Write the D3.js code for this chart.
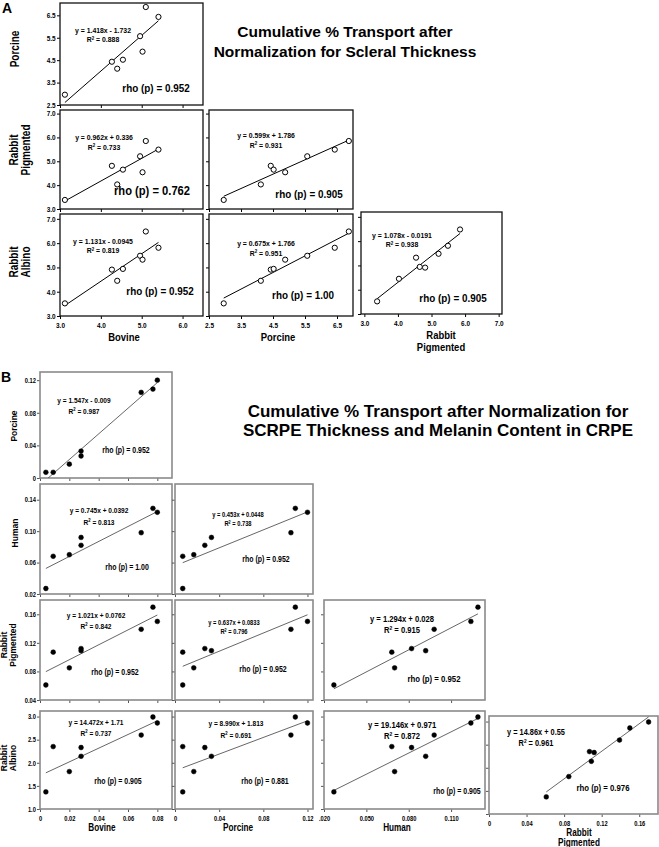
<!DOCTYPE html>
<html>
<head>
<meta charset="utf-8">
<script src="https://cdnjs.cloudflare.com/ajax/libs/d3/7.8.5/d3.min.js"></script>
<style>
  body { margin: 0; background: #fff; }
  svg text { font-family: "Liberation Sans", Arial, Helvetica, sans-serif; font-weight: bold; fill: #000; }
</style>
</head>
<body>
<svg id="chart" width="659" height="847"></svg>
<script>
// ---- A: cumulative % transport after normalization for scleral thickness (8 samples)
var bovineA  = [3.12, 4.27, 4.40, 4.54, 4.96, 5.02, 5.10, 5.41];
var porcineA = [2.96, 4.43, 4.12, 4.52, 5.57, 4.88, 6.87, 6.43];
var rabPigA  = [3.38, 4.81, 4.03, 4.65, 5.21, 4.54, 5.85, 5.49];
var rabAlbA  = [3.52, 4.91, 4.45, 4.94, 5.48, 5.32, 6.48, 5.81];

// panel order: Por~Bov, RP~Bov, RP~Por, RA~Bov, RA~Por, RA~RP
var eqA  = ["y = 1.418x - 1.732", "y = 0.962x + 0.336", "y = 0.599x + 1.786",
            "y = 1.131x - 0.0945", "y = 0.675x + 1.766", "y = 1.078x - 0.0191"];
var r2A  = ["0.888", "0.733", "0.931", "0.819", "0.951", "0.938"];
var rhoA = ["0.952", "0.762", "0.905", "0.952", "1.00", "0.905"];

var bovineTicksA   = [3, 4, 5, 6];
var porcineTicksXA = [2.5, 3.5, 4.5, 5.5, 6.5];
var rabPigTicksXA  = [3, 4, 5, 6, 7];
var porcineTicksYA = [2.5, 3.5, 4.5, 5.5, 6.5];
var rabPigTicksYA  = [3, 4, 5, 6, 7];
var rabAlbTicksYA  = [3, 4, 5, 6, 7];

// ---- B: normalization for SCRPE thickness and melanin content in CRPE
var bovineB  = [0.004, 0.009, 0.020, 0.028, 0.028, 0.069, 0.077, 0.080];
var porcineB = [0.007, 0.007, 0.017, 0.033, 0.027, 0.105, 0.109, 0.120];
var humanB   = [0.027, 0.068, 0.070, 0.092, 0.082, 0.098, 0.129, 0.124];
var rabPigB  = [0.061, 0.107, 0.085, 0.109, 0.112, 0.139, 0.170, 0.150];
var rabAlbB  = [1.37, 2.35, 1.81, 2.14, 2.33, 2.60, 2.99, 2.86];

// panel order: Por~Bov, Hum~Bov, Hum~Por, RP~Bov, RP~Por, RP~Hum, RA~Bov, RA~Por, RA~Hum, RA~RP
var eqB  = ["y = 1.547x - 0.009", "y = 0.745x + 0.0392", "y = 0.453x + 0.0448",
            "y = 1.021x + 0.0762", "y = 0.637x + 0.0833", "y = 1.294x + 0.028",
            "y = 14.472x + 1.71", "y = 8.990x + 1.813", "y = 19.146x + 0.971", "y = 14.86x + 0.55"];
var r2B  = ["0.987", "0.813", "0.738", "0.842", "0.796", "0.915", "0.737", "0.691", "0.872", "0.961"];
var rhoB = ["0.952", "1.00", "0.952", "0.952", "0.952", "0.952", "0.905", "0.881", "0.905", "0.976"];

var bovineTicksB   = [0, 0.02, 0.04, 0.06, 0.08];
var porcineTicksXB = [0, 0.04, 0.08, 0.12];
var humanTicksXB   = [0.02, 0.05, 0.08, 0.11];
var rabPigTicksXB  = [0, 0.04, 0.08, 0.12, 0.16];
var porcineTicksYB = [0, 0.04, 0.08, 0.12];
var humanTicksYB   = [0.02, 0.06, 0.10, 0.14];
var rabPigTicksYB  = [0.04, 0.08, 0.12, 0.16];
var rabAlbTicksYB  = [1.0, 1.5, 2.0, 2.5, 3.0];

var svg = d3.select("#chart");

var f1 = d3.format(".1f");
var f2 = function (d) { return d === 0 ? "0" : d3.format(".2f")(d); };
var f3 = function (d) { return d3.format(".3f")(d).replace(/^0\.020$/, ".020"); };

// layout of the two matrices
var setA = {
  id: "a", k: 0.86, tickLen: 3, tickPad: 2, tickFont: 7.5, tickColor: "#000",
  box: "#111", boxW: 1.3, lineColor: "#000", lineW: 1, open: true, r: 2.6,
  eqSize: 8, rhoSize: 11.5, titleSize: 11, titleGap: 21, titleLead: 12,
  labelSize: 12.5, labelK: 0.8,
  cols: [
    { x0: 60, x1: 203, dom: [3.0, 6.5], ticks: bovineTicksA, fmt: f1, title: ["Bovine"], tx: 124 },
    { x0: 209, x1: 353, dom: [2.5, 7.0], ticks: porcineTicksXA, fmt: f1, title: ["Porcine"], tx: 278 },
    { x0: 361, x1: 502, dom: [2.9, 7.1], ticks: rabPigTicksXA, fmt: f1, title: ["Rabbit", "Pigmented"], tx: 441 }
  ],
  rows: [
    { y0: 3, y1: 105, dom: [2.5, 7.05], ticks: porcineTicksYA, fmt: f1, title: ["Porcine"], lx: [15], ly: 49 },
    { y0: 110, y1: 209, dom: [3.0, 7.15], ticks: rabPigTicksYA, fmt: f1, title: ["Rabbit", "Pigmented"], lx: [14, 26], ly: 150 },
    { y0: 214, y1: 316, dom: [3.0, 7.2], ticks: rabAlbTicksYA, fmt: f1, title: ["Rabbit", "Albino"], lx: [14, 26], ly: 262 }
  ],
  eq: eqA, r2: r2A, rho: rhoA,
  panels: [
    { r: 0, c: 0, x: bovineA, y: porcineA, note: [43, 27, 36.5, 96, 85] },
    { r: 1, c: 0, x: bovineA, y: rabPigA, note: [44, 27.5, 37, 92, 80], rhoSize: 13 },
    { r: 1, c: 1, x: porcineA, y: rabPigA, note: [57, 25.5, 35, 100, 84] },
    { r: 2, c: 0, x: bovineA, y: rabAlbA, note: [43, 27, 36.5, 100, 77] },
    { r: 2, c: 1, x: porcineA, y: rabAlbA, note: [57, 29.5, 39, 94, 81] },
    { r: 2, c: 2, x: rabPigA, y: rabAlbA, note: [41, 23, 32.5, 92, 86], shift: -2 }
  ]
};

var setB = {
  id: "b", k: 0.82, tickLen: 3, tickPad: 2, tickFont: 7, tickColor: "#555",
  box: "#8a8a8a", boxW: 1.6, lineColor: "#555", lineW: 0.9, open: false, r: 2.4,
  eqSize: 8, rhoSize: 8.5, titleSize: 10, titleGap: 18, titleLead: 10.5,
  labelSize: 8.5, labelK: 1,
  cols: [
    { x0: 40, x1: 172, dom: [0, 0.09], ticks: bovineTicksB, fmt: f2, title: ["Bovine"], tx: 102 },
    { x0: 175, x1: 313, dom: [0, 0.125], ticks: porcineTicksXB, fmt: f2, title: ["Porcine"], tx: 238 },
    { x0: 324, x1: 485, dom: [0.02, 0.134], ticks: humanTicksXB, fmt: f3, title: ["Human"], tx: 397 },
    { x0: 489, x1: 658, dom: [0, 0.18], ticks: rabPigTicksXB, fmt: f2, title: ["Rabbit", "Pigmented"], tx: 579 }
  ],
  rows: [
    { y0: 372, y1: 478, dom: [0, 0.13], ticks: porcineTicksYB, fmt: f2, title: ["Porcine"], lx: [14], ly: 426 },
    { y0: 484, y1: 594, dom: [0.02, 0.16], ticks: humanTicksYB, fmt: f2, title: ["Human"], lx: [15], ly: 533 },
    { y0: 600, y1: 700, dom: [0.04, 0.18], ticks: rabPigTicksYB, fmt: f2, title: ["Rabbit", "Pigmented"], lx: [4, 13], ly: 645 },
    { y0: 711, y1: 809, dom: [1.0, 3.12], ticks: rabAlbTicksYB, fmt: f1, title: ["Rabbit", "Albino"], lx: [4, 13], ly: 758 }
  ],
  eq: eqB, r2: r2B, rho: rhoB,
  panels: [
    { r: 0, c: 0, x: bovineB, y: porcineB, note: [44, 28, 39, 86, 78] },
    { r: 1, c: 0, x: bovineB, y: humanB, note: [59, 26, 38, 87, 83] },
    { r: 1, c: 1, x: porcineB, y: humanB, note: [63, 31, 39.5, 91, 75], eqSize: 7 },
    { r: 2, c: 0, x: bovineB, y: rabPigB, note: [56, 15, 26, 75, 72] },
    { r: 2, c: 1, x: porcineB, y: rabPigB, note: [59, 23, 32, 88, 69], eqSize: 7 },
    { r: 2, c: 2, x: humanB, y: rabPigB, note: [78, 19, 30, 110, 79], eqSize: 9.3, rhoSize: 9.5 },
    { r: 3, c: 0, x: bovineB, y: rabAlbB, note: [56, 11, 22, 78, 70] },
    { r: 3, c: 1, x: porcineB, y: rabAlbB, note: [61, 12, 24, 90, 70] },
    { r: 3, c: 2, x: humanB, y: rabAlbB, note: [78, 14, 25, 133, 80], eqSize: 9.3 },
    { r: 3, c: 3, x: rabPigB, y: rabAlbB, note: [47, 16, 26.5, 114, 72], eqSize: 9, rhoSize: 9.5, shift: 5 }
  ]
};

// least squares line through the plotted points
function fitLine(xs, ys) {
  var mx = d3.mean(xs), my = d3.mean(ys);
  var sxy = d3.sum(xs, function (v, i) { return (v - mx) * (ys[i] - my); });
  var sxx = d3.sum(xs, function (v) { return (v - mx) * (v - mx); });
  var b = sxy / sxx;
  return function (v) { return my + b * (v - mx); };
}

function squishText(g, x, y, size, k, anchor) {
  return g.append("text")
    .attr("transform", "translate(" + x + "," + y + ") scale(" + k + ",1)")
    .attr("text-anchor", anchor || "middle")
    .attr("dy", "0.35em")
    .style("font-size", size + "px");
}

function styleAxis(sel, set) {
  sel.attr("font-size", null).attr("font-family", null);
  sel.select(".domain").remove();
  sel.selectAll(".tick line").attr("stroke", set.tickColor);
  sel.selectAll(".tick text")
    .attr("fill", "#000")
    .style("font-size", set.tickFont + "px")
    .attr("transform", "scale(" + set.k + ",1)");
}

function drawSet(set) {
  var lastRow = set.rows.length - 1;

  set.panels.forEach(function (p, i) {
    var col = set.cols[p.c], row = set.rows[p.r];
    var shift = p.shift || 0;
    var y0 = row.y0 + shift, y1 = row.y1 + shift;
    var x = d3.scaleLinear().domain(col.dom).range([col.x0, col.x1]);
    var y = d3.scaleLinear().domain(row.dom).range([y1, y0]);
    var g = svg.append("g");

    var xAxis = d3.axisBottom(x).tickValues(col.ticks)
      .tickSize(set.tickLen).tickSizeOuter(0).tickPadding(set.tickPad + 2)
      .tickFormat(p.r === lastRow ? col.fmt : function () { return ""; });
    g.append("g").attr("transform", "translate(0," + y1 + ")").call(xAxis)
      .call(styleAxis, set);

    var yAxis = d3.axisLeft(y).tickValues(row.ticks)
      .tickSize(set.tickLen).tickSizeOuter(0).tickPadding(set.tickPad)
      .tickFormat(p.c === 0 ? row.fmt : function () { return ""; });
    g.append("g").attr("transform", "translate(" + col.x0 + ",0)").call(yAxis)
      .call(styleAxis, set);

    // frame
    g.append("rect")
      .attr("x", col.x0).attr("y", y0)
      .attr("width", col.x1 - col.x0).attr("height", y1 - y0)
      .attr("fill", "none")
      .attr("stroke", set.box)
      .attr("stroke-width", set.boxW);

    var clipId = "clip-" + set.id + i;
    svg.append("clipPath").attr("id", clipId)
      .append("rect")
      .attr("x", col.x0).attr("y", y0)
      .attr("width", col.x1 - col.x0).attr("height", y1 - y0);

    // regression line over the range of x
    var f = fitLine(p.x, p.y);
    var ext = d3.extent(p.x);
    g.append("line")
      .attr("clip-path", "url(#" + clipId + ")")
      .attr("x1", x(ext[0])).attr("y1", y(f(ext[0])))
      .attr("x2", x(ext[1])).attr("y2", y(f(ext[1])))
      .attr("stroke", set.lineColor)
      .attr("stroke-width", set.lineW);

    var pts = p.x.map(function (v, k) { return { x: v, y: p.y[k] }; });
    g.selectAll("circle.pt").data(pts).join("circle")
      .attr("class", "pt")
      .attr("cx", function (d) { return x(d.x); })
      .attr("cy", function (d) { return y(d.y); })
      .attr("r", set.r)
      .attr("fill", set.open ? "#fff" : "#000")
      .attr("stroke", "#000")
      .attr("stroke-width", set.open ? 1 : 0.5);

    // equation, R squared and rho
    var n = p.note, eqSize = p.eqSize || set.eqSize, rhoSize = p.rhoSize || set.rhoSize;
    squishText(g, col.x0 + n[0], y0 + n[1], eqSize, set.k).text(set.eq[i]);
    var r2 = squishText(g, col.x0 + n[0], y0 + n[2], eqSize, set.k);
    r2.append("tspan").text("R");
    r2.append("tspan").attr("dy", -eqSize * 0.35).style("font-size", (eqSize * 0.65) + "px").text("2");
    r2.append("tspan").attr("dy", eqSize * 0.35).text(" = " + set.r2[i]);
    squishText(g, col.x0 + n[3], y0 + n[4], rhoSize, set.k).text("rho (p) = " + set.rho[i]);

    // axis title under the bottom row
    if (p.r === lastRow) {
      col.title.forEach(function (t, j) {
        squishText(svg, col.tx, y1 + set.titleGap + j * set.titleLead, set.titleSize, set.k).text(t);
      });
    }
  });

  // row labels
  set.rows.forEach(function (row) {
    row.title.forEach(function (t, j) {
      svg.append("text")
        .attr("transform", "translate(" + row.lx[j] + "," + row.ly + ") rotate(-90) scale(" + set.labelK + ",1)")
        .attr("text-anchor", "middle")
        .attr("dy", "0.35em")
        .style("font-size", set.labelSize + "px")
        .text(t);
    });
  });
}

drawSet(setA);
drawSet(setB);

// panel letters and headings
svg.append("text").attr("x", 2).attr("y", 13).style("font-size", "14px").text("A");
svg.append("text").attr("x", 1).attr("y", 382).style("font-size", "14px").text("B");

var titleA = ["Cumulative % Transport after", "Normalization for Scleral Thickness"];
var titleB = ["Cumulative % Transport after Normalization for", "SCRPE Thickness and Melanin Content in CRPE"];

titleA.forEach(function (t, i) {
  svg.append("text").attr("x", 345).attr("y", 32 + i * 20).attr("dy", "0.35em")
    .attr("text-anchor", "middle").style("font-size", "15.5px").text(t);
});
titleB.forEach(function (t, i) {
  svg.append("text").attr("x", 438).attr("y", 411 + i * 19).attr("dy", "0.35em")
    .attr("text-anchor", "middle").style("font-size", "17px").text(t);
});
</script>
</body>
</html>
